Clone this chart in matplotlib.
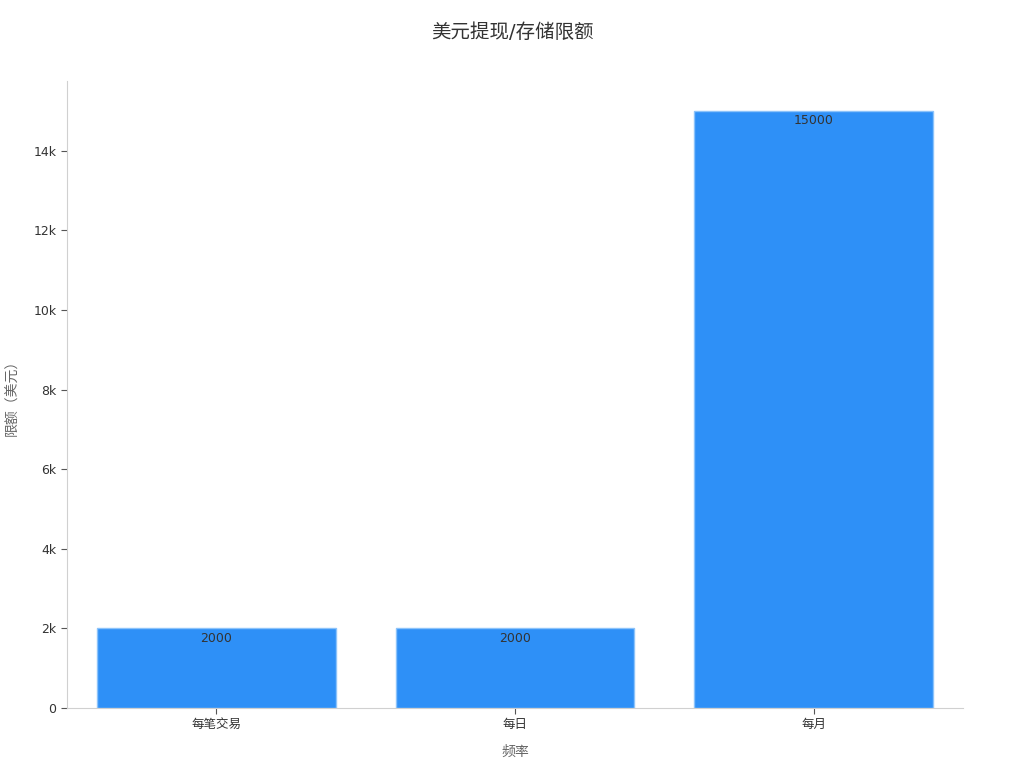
import matplotlib
matplotlib.use("Agg")
import matplotlib.pyplot as plt
from matplotlib.ticker import FuncFormatter, MultipleLocator

plt.rcParams['font.family'] = ['DejaVu Sans', 'Noto Sans CJK SC']

categories = ["每笔交易", "每日", "每月"]
values = [2000, 2000, 15000]
title = "美元提现/存储限额"
xlabel = "频率"
ylabel = "限额（美元）"

fig = plt.figure(figsize=(10.24, 7.68), dpi=100)
ax = fig.add_axes([67/1024, 60/768, (963-67)/1024, (708-81)/768])

x = list(range(len(categories)))
bars = ax.bar(x, values, width=0.8, color="#2E90F7", edgecolor="#8CC3FA", linewidth=1)

for xi, v in zip(x, values):
    ax.annotate(str(v), xy=(xi, v), xytext=(0, -10), textcoords="offset pixels",
                ha="center", va="center", fontsize=9, color="#333333")

ax.set_xlim(-0.5, len(categories) - 0.5)
ax.set_ylim(0, max(values) * 1.05)
ax.yaxis.set_major_locator(MultipleLocator(2000))
ax.yaxis.set_major_formatter(FuncFormatter(lambda v, p: "0" if v == 0 else f"{int(v/1000)}k"))
ax.set_xticks(x)
ax.set_xticklabels(categories)

for s in ["top", "right"]:
    ax.spines[s].set_visible(False)
for s in ["left", "bottom"]:
    ax.spines[s].set_color("#d0d0d0")
    ax.spines[s].set_linewidth(0.8)

ax.tick_params(axis="both", labelsize=9, colors="#333333", length=4, width=0.8)
ax.tick_params(axis="both", color="#555555")

ax.set_xlabel(xlabel, fontsize=10, color="#666666", labelpad=10)
ax.set_ylabel(ylabel, fontsize=10, color="#666666", labelpad=10)
fig.text(0.5, 1 - 33/768, title, ha="center", va="center", fontsize=14, color="#333333")

fig.savefig("out.png", dpi=100)
